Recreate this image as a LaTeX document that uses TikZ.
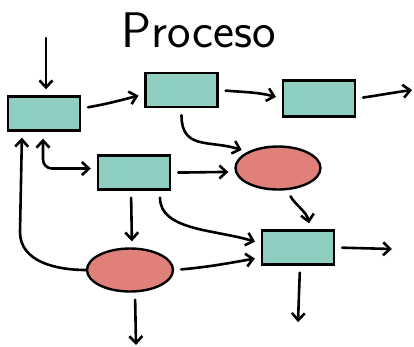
\documentclass[tikz,border=0pt]{standalone}
\usepackage{amsmath,amssymb}
\usetikzlibrary{arrows.meta,shapes.geometric}

\definecolor{boxteal}{RGB}{142,207,193}
\definecolor{ovalred}{RGB}{224,128,122}

\begin{document}
\begin{tikzpicture}[x=1pt,y=-1pt,
  stepbox/.style={draw,line width=2.4pt,fill=boxteal,minimum width=72pt,minimum height=34pt,inner sep=0pt},
  decision/.style={ellipse,draw,line width=2.4pt,fill=ovalred,minimum width=85pt,minimum height=43pt,inner sep=0pt},
  flow/.style={line width=2.6pt,line cap=round,-{Straight Barb[length=7pt,width=13pt]},shorten >=6pt,shorten <=7pt},
  freeflow/.style={flow,shorten >=0pt}]

\useasboundingbox (0,0) rectangle (414,346);

%\draw [help lines,step=20] (0,0) grid (414,346);

\node (title) at (199,30) {\sffamily\fontsize{50}{50}\selectfont Proceso};

% boxes
\node [stepbox] (inbox) at (44,113.5) {};
\node [stepbox] (topbox) at (181.5,90) {};
\node [stepbox,minimum height=36pt] (rightbox) at (319,98.5) {};
\node [stepbox] (midbox) at (134,172.5) {};
\node [stepbox] (outbox) at (298,247.5) {};

% ellipses
\node [decision] (upoval) at (278,168) {};
\node [decision,minimum width=86pt] (lowoval) at (130,270) {};

% free ends
\coordinate (start) at (46,38);
\coordinate (exitc) at (412,90);
\coordinate (exite) at (392,249);
\coordinate (downe) at (298,322);
\coordinate (downg) at (136,345);
\coordinate (bend) at (20,232);

% top row
\draw [flow,shorten <=0pt] (start) -- ([xshift=2pt]inbox.north);
\draw [flow] ([yshift=5pt]inbox.east) to [out=10, in=195] ([yshift=-4pt]topbox.west);
\draw [flow] (topbox.east) to [out=-5, in=165] (rightbox.west);
\draw [freeflow] (rightbox.east) to [out=8, in=188] (exitc);
\draw [flow] (topbox.south) .. controls +(0,42) and +(-38,-12) .. (upoval.152);

% middle
\draw [flow,{Straight Barb[length=7pt,width=13pt]}-{Straight Barb[length=7pt,width=13pt]},rounded corners=9pt]
  ([xshift=-1pt]inbox.south) |- ([yshift=4pt]midbox.west);
\draw [flow] (midbox.east) to [out=0, in=180] ([yshift=-4pt]upoval.west);
\draw [flow] ([xshift=-3pt]midbox.south) -- ([xshift=2pt]lowoval.north);
\draw [flow] ([xshift=26pt]midbox.south) .. controls +(0,40) and +(-45,-14) .. ([yshift=4pt]outbox.west);
\draw [flow] (upoval.-68) to [out=-60, in=100] ([xshift=12pt]outbox.north);

% bottom
\draw [flow,shorten <=0pt] (lowoval.west) to [out=180, in=-90] (bend) -- ([xshift=-22pt]inbox.south);
\draw [flow] (lowoval.east) to [out=5, in=190] ([yshift=-10pt]outbox.west);
\draw [freeflow] (outbox.east) -- (exite);
\draw [freeflow] ([xshift=2pt]outbox.south) -- (downe);
\draw [freeflow] ([xshift=5pt]lowoval.south) -- (downg);

\end{tikzpicture}
\end{document}
